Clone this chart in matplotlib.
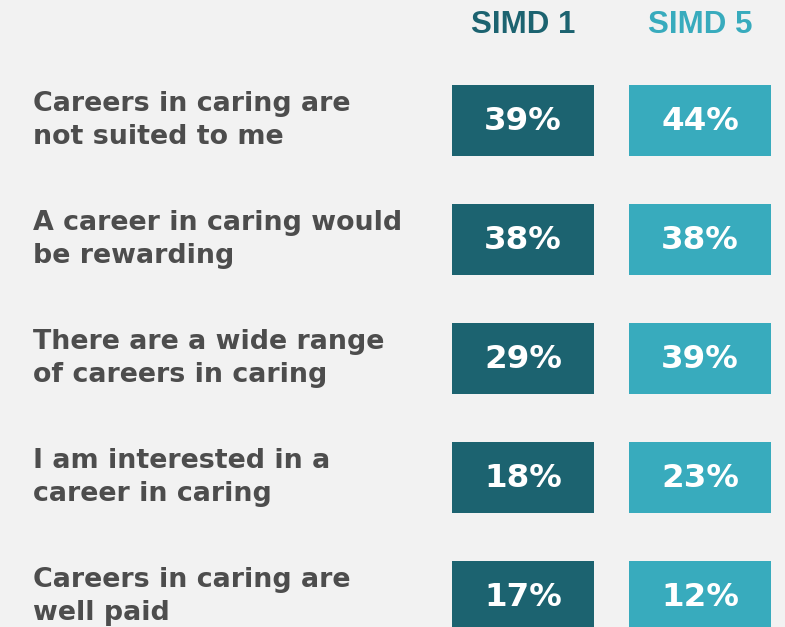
import matplotlib
matplotlib.use("Agg")
import matplotlib.pyplot as plt
from matplotlib import font_manager

# data
statements = [
    "Careers in caring are\nnot suited to me",
    "A career in caring would\nbe rewarding",
    "There are a wide range\nof careers in caring",
    "I am interested in a\ncareer in caring",
    "Careers in caring are\nwell paid",
]
simd1 = [39, 38, 29, 18, 17]
simd5 = [44, 38, 39, 23, 12]
groups = ["SIMD 1", "SIMD 5"]

dark = "#1c6370"
light = "#38abbd"
grey_txt = "#4d4d4d"
bg = "#f2f2f2"

# pick the regular-width Liberation Sans Bold, not the Narrow one
lib_bold = None
for f in font_manager.fontManager.ttflist:
    if (f.name == "Liberation Sans" and f.weight == 700 and f.style == "normal"
            and "Narrow" not in f.fname):
        lib_bold = font_manager.FontProperties(fname=f.fname, size=22.5)
        break
if lib_bold is None:
    lib_bold = font_manager.FontProperties(family="DejaVu Sans", weight="bold", size=22)

fig = plt.figure(figsize=(7.85, 6.27), dpi=100)
fig.patch.set_facecolor(bg)
ax = fig.add_axes([0, 0, 1, 1])
ax.set_facecolor(bg)
ax.set_xlim(0, 785)
ax.set_ylim(627, 0)
ax.axis("off")

rows = [120.5 + 119 * i for i in range(len(statements))]
cols = [(452, dark, simd1), (629, light, simd5)]

for (left, color, vals), name in zip(cols, groups):
    ax.barh(rows, [142] * len(rows), left=left, height=71, color=color)
    cx = left + 71
    ax.text(cx, 25, name, ha="center", va="center", color=color,
            fontproperties=lib_bold)
    for y, v in zip(rows, vals):
        ax.text(cx, y + 1, f"{v}%", ha="center", va="center", color="white",
                fontsize=23.4, fontweight="bold", family="DejaVu Sans")

for y, s in zip(rows, statements):
    ax.text(33, y, s, ha="left", va="center", color=grey_txt,
            fontsize=19.4, fontweight="bold", family="DejaVu Sans",
            linespacing=1.35)

fig.savefig("out.png", dpi=100, facecolor=bg)
